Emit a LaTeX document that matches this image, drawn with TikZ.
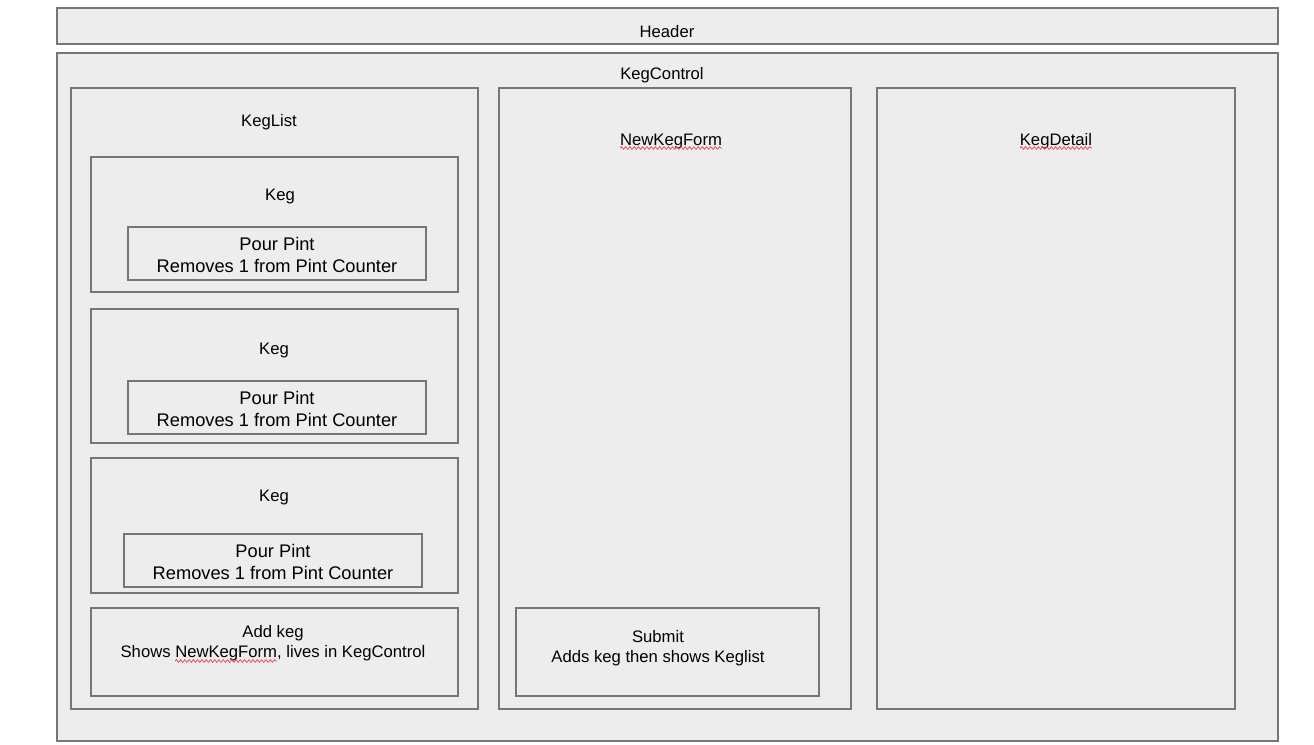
\documentclass[tikz,border=0pt]{standalone}
\usepackage{fontspec}
\setmainfont{Liberation Sans}
\usetikzlibrary{fit,decorations.pathmorphing}
\definecolor{boxfill}{HTML}{EDEDED}
\definecolor{boxline}{HTML}{767676}
\definecolor{squig}{HTML}{E8545A}
\tikzset{
  box/.style={draw=boxline, fill=boxfill, line width=1.1pt, inner sep=0pt, fit={#1}},
  lbl/.style={font=\fontsize{12.5pt}{15pt}\selectfont, inner sep=0pt, align=center},
  lblbig/.style={font=\fontsize{13.7pt}{16.5pt}\selectfont, inner sep=0pt, align=center},
  spell/.style={draw=squig, line width=0.6pt, decorate, decoration={snake, amplitude=1pt, segment length=3.2pt}}
}
\begin{document}
\begin{tikzpicture}[x=0.75pt,y=-0.75pt]
\useasboundingbox (0,0) rectangle (1314,744);
% containers
\node[box={(57,8) (1278,44)}] (header) {};
\node[lbl] (headerT) at (667,32) {Header};
\node[box={(57,53) (1278,741)}] (kegcontrol) {};
\node[lbl] (kegcontrolT) at (662,75) {KegControl};
% KegList column
\node[box={(71,88) (478,709)}] (keglist) {};
\node[lbl] (keglistT) at (269,122) {KegList};
% Keg 1
\node[box={(91,157) (458,292)}] (keg1) {};
\node[lbl] (keg1T) at (280,196) {Keg};
\node[box={(128,227) (426,280)}] (pour1) {};
\node[lblbig] (pour1T) at (277,255) {Pour Pint\\Removes 1 from Pint Counter};
% Keg 2
\node[box={(91,309) (458,443)}] (keg2) {};
\node[lbl] (keg2T) at (274,350) {Keg};
\node[box={(128,381) (426,434)}] (pour2) {};
\node[lblbig] (pour2T) at (277,409) {Pour Pint\\Removes 1 from Pint Counter};
% Keg 3
\node[box={(91,458) (458,593)}] (keg3) {};
\node[lbl] (keg3T) at (274,497) {Keg};
\node[box={(124,534) (422,587)}] (pour3) {};
\node[lblbig] (pour3T) at (273,562) {Pour Pint\\Removes 1 from Pint Counter};
% Add keg
\node[box={(91,608) (458,696)}] (addkeg) {};
\node[lbl] (addkegT) at (273,643) {Add keg\\Shows NewKegForm, lives in KegControl};
\coordinate (sq1a) at (175,661);
\coordinate (sq1b) at (277,661);
\draw[spell] (sq1a) -- (sq1b);
% NewKegForm column
\node[box={(499,88) (851,709)}] (newkegform) {};
\node[lbl] (newkegformT) at (671,141) {NewKegForm};
\coordinate (sq2a) at (620,148);
\coordinate (sq2b) at (722,148);
\draw[spell] (sq2a) -- (sq2b);
\node[box={(516,608) (819,696)}] (submit) {};
\node[lbl] (submitT) at (658,648) {Submit\\Adds keg then shows Keglist};
% KegDetail column
\node[box={(877,88) (1235,709)}] (kegdetail) {};
\node[lbl] (kegdetailT) at (1056,141) {KegDetail};
\coordinate (sq3a) at (1020,148);
\coordinate (sq3b) at (1092,148);
\draw[spell] (sq3a) -- (sq3b);
\end{tikzpicture}
\end{document}
